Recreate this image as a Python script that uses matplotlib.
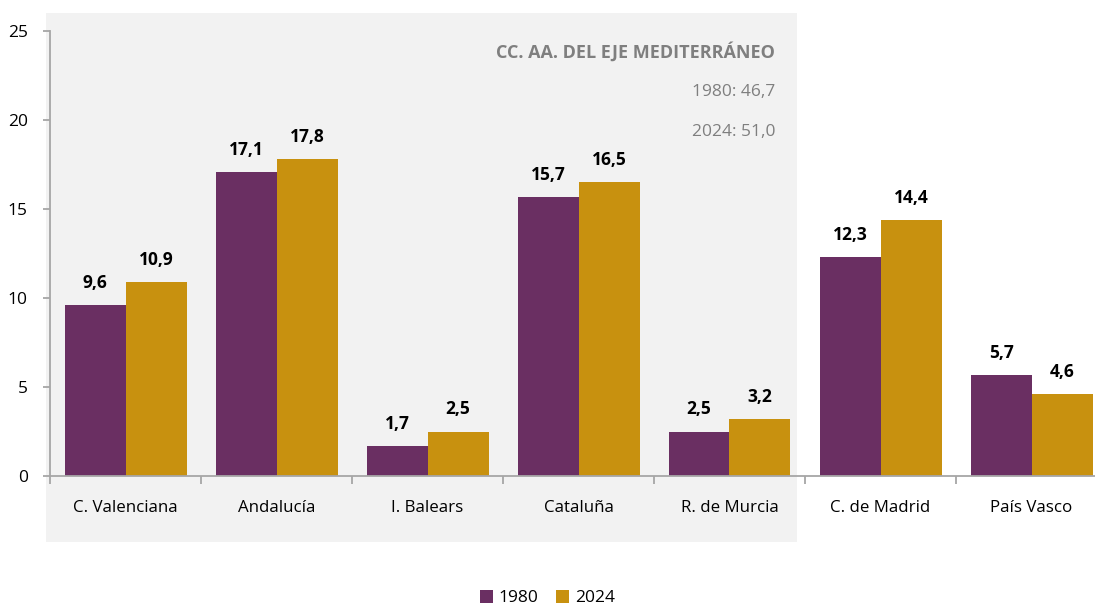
import matplotlib
matplotlib.use("Agg")
import matplotlib.pyplot as plt
from matplotlib.patches import Rectangle, Patch

plt.rcParams['font.family'] = ['Open Sans', 'DejaVu Sans']

categories = ["C. Valenciana", "Andalucía", "I. Balears", "Cataluña",
              "R. de Murcia", "C. de Madrid", "País Vasco"]
values_1980 = [9.6, 17.1, 1.7, 15.7, 2.5, 12.3, 5.7]
values_2024 = [10.9, 17.8, 2.5, 16.5, 3.2, 14.4, 4.6]
series_names = ["1980", "2024"]
yticks = [0, 5, 10, 15, 20, 25]
box_title = "CC. AA. DEL EJE MEDITERRÁNEO"
box_lines = ["1980: 46,7", "2024: 51,0"]

purple = "#6A2F62"
gold = "#C8910F"
axis_gray = "#A6A6A6"
text_gray = "#7F7F7F"

W, H = 1095, 609
fig = plt.figure(figsize=(W / 100, H / 100), dpi=100)

ax = fig.add_axes([50 / W, (H - 476) / H, 1057 / W, 445 / H])
ax.set_facecolor("none")
ax.set_zorder(2)

# grey background panel
bg = fig.add_axes([46 / W, (H - 542) / H, 751 / W, 529 / H])
bg.set_zorder(0)
bg.set_facecolor("#F2F2F2")
bg.set_xticks([])
bg.set_yticks([])
for s in bg.spines.values():
    s.set_visible(False)

bw = 61 / 151
xs = range(len(categories))
b1 = ax.bar([x - bw / 2 for x in xs], values_1980, width=bw, color=purple, zorder=2)
b2 = ax.bar([x + bw / 2 for x in xs], values_2024, width=bw, color=gold, zorder=2)

for bars, vals in ((b1, values_1980), (b2, values_2024)):
    for rect, v in zip(bars, vals):
        ax.annotate(f"{v:.1f}".replace(".", ","),
                    (rect.get_x() + rect.get_width() / 2, v),
                    xytext=(0, 22 * 0.72), textcoords="offset points",
                    ha="center", va="center", fontsize=12.5, fontweight="bold",
                    color="black")

ax.set_xlim(-0.5, len(categories) - 0.5)
ax.set_ylim(0, 25)
ax.set_yticks(yticks)
ax.set_yticklabels([str(t) for t in yticks])
ax.set_xticks([i - 0.5 for i in range(len(categories) + 1)])
ax.set_xticklabels([])
ax.set_xticks(list(xs), minor=True)
ax.set_xticklabels(categories, minor=True)
ax.tick_params(axis="x", which="minor", length=0, pad=17, labelsize=12.2, colors="black")
ax.tick_params(axis="x", which="major", length=6, width=1.3, color=axis_gray, direction="out")
ax.tick_params(axis="y", length=5, width=1.3, color=axis_gray, pad=11, labelsize=12.5,
               labelcolor="black")

for s in ("top", "right"):
    ax.spines[s].set_visible(False)
for s in ("left", "bottom"):
    ax.spines[s].set_color(axis_gray)
    ax.spines[s].set_linewidth(1.3)

fig.text(775 / W, 1 - 52 / H, box_title, ha="right", va="center",
         fontsize=13, fontweight="bold", color=text_gray, zorder=5)
fig.text(775 / W, 1 - 92 / H, box_lines[0], ha="right", va="center",
         fontsize=12.5, color=text_gray, zorder=5)
fig.text(775 / W, 1 - 132 / H, box_lines[1], ha="right", va="center",
         fontsize=12.5, color=text_gray, zorder=5)

handles = [Patch(facecolor=purple), Patch(facecolor=gold)]
fig.legend(handles, series_names, loc="center", bbox_to_anchor=(0.5, 11 / H),
           ncol=2, frameon=False, fontsize=12.5, handlelength=0.75, handleheight=0.75,
           handletextpad=0.35, columnspacing=1.0)

fig.savefig("out.png", dpi=100)
